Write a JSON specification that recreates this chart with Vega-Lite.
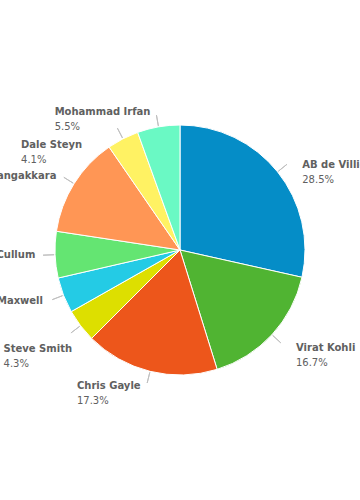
{
  "$schema": "https://vega.github.io/schema/vega-lite/v6.json",
  "width": 360,
  "height": 500,
  "autosize": "none",
  "padding": 0,
  "background": "white",
  "view": {"stroke": null},
  "data": {
    "values": [
      {"name": "AB de Villiers", "share": 0.285},
      {"name": "Virat Kohli", "share": 0.167},
      {"name": "Chris Gayle", "share": 0.173},
      {"name": "Steve Smith", "share": 0.043},
      {"name": "Glenn Maxwell", "share": 0.046},
      {"name": "Brendon McCullum", "share": 0.060},
      {"name": "Kumar Sangakkara", "share": 0.130},
      {"name": "Dale Steyn", "share": 0.041},
      {"name": "Mohammad Irfan", "share": 0.055}
    ]
  },
  "transform": [{"window": [{"op": "row_number", "as": "idx"}]}],
  "encoding": {
    "theta": {"field": "share", "type": "quantitative", "stack": true},
    "order": {"field": "idx", "type": "quantitative"},
    "detail": {"field": "name", "type": "nominal"}
  },
  "layer": [
    {
      "mark": {"type": "arc", "outerRadius": 125, "stroke": "white", "strokeWidth": 1},
      "encoding": {
        "color": {
          "field": "name",
          "type": "nominal",
          "legend": null,
          "scale": {
            "domain": ["AB de Villiers", "Virat Kohli", "Chris Gayle", "Steve Smith", "Glenn Maxwell", "Brendon McCullum", "Kumar Sangakkara", "Dale Steyn", "Mohammad Irfan"],
            "range": ["#058DC7", "#50B432", "#ED561B", "#DDDF00", "#24CBE5", "#64E572", "#FF9655", "#FFF263", "#6AF9C4"]
          }
        }
      }
    },
    {
      "mark": {
        "type": "arc",
        "innerRadius": 126,
        "outerRadius": 137,
        "padAngle": 3.2,
        "fill": null,
        "fillOpacity": 0,
        "stroke": "#c0c0c0",
        "strokeWidth": 1
      }
    },
    {
      "mark": {
        "type": "text",
        "radius": 140,
        "align": "left",
        "baseline": "middle",
        "font": "DejaVu Sans",
        "fontSize": 10,
        "fontWeight": "bold",
        "fill": "#606060",
        "dx": {"expr": "((datum.share_start + datum.share_end) < 1 ? 13 : -6 - (6.9 * length(datum.name) + 3.3 * length(replace(datum.name, regexp('[^mMwW]', 'g'), '')) - 3.4 * length(replace(datum.name, regexp('[^iIlj ]', 'g'), '')) - 2.2 * length(replace(datum.name, regexp('[^rtf]', 'g'), '')))) + (datum.name == 'Dale Steyn' ? -29 : datum.name == 'Steve Smith' ? 9 : 0)"},
        "dy": {"expr": "((datum.share_start + datum.share_end) < 1 ? 3 : 0) + (datum.name == 'Dale Steyn' ? 20 : datum.name == 'Steve Smith' ? 14 : 0)"}
      },
      "encoding": {"text": {"field": "name", "type": "nominal"}}
    },
    {
      "mark": {
        "type": "text",
        "radius": 140,
        "align": "left",
        "baseline": "middle",
        "font": "DejaVu Sans",
        "fontSize": 10,
        "fill": "#606060",
        "dx": {"expr": "((datum.share_start + datum.share_end) < 1 ? 13 : -6 - (6.9 * length(datum.name) + 3.3 * length(replace(datum.name, regexp('[^mMwW]', 'g'), '')) - 3.4 * length(replace(datum.name, regexp('[^iIlj ]', 'g'), '')) - 2.2 * length(replace(datum.name, regexp('[^rtf]', 'g'), '')))) + (datum.name == 'Dale Steyn' ? -29 : datum.name == 'Steve Smith' ? 9 : 0)"},
        "dy": {"expr": "15 + ((datum.share_start + datum.share_end) < 1 ? 3 : 0) + (datum.name == 'Dale Steyn' ? 20 : datum.name == 'Steve Smith' ? 14 : 0)"}
      },
      "encoding": {"text": {"field": "share", "type": "quantitative", "format": ".1%"}}
    }
  ]
}
